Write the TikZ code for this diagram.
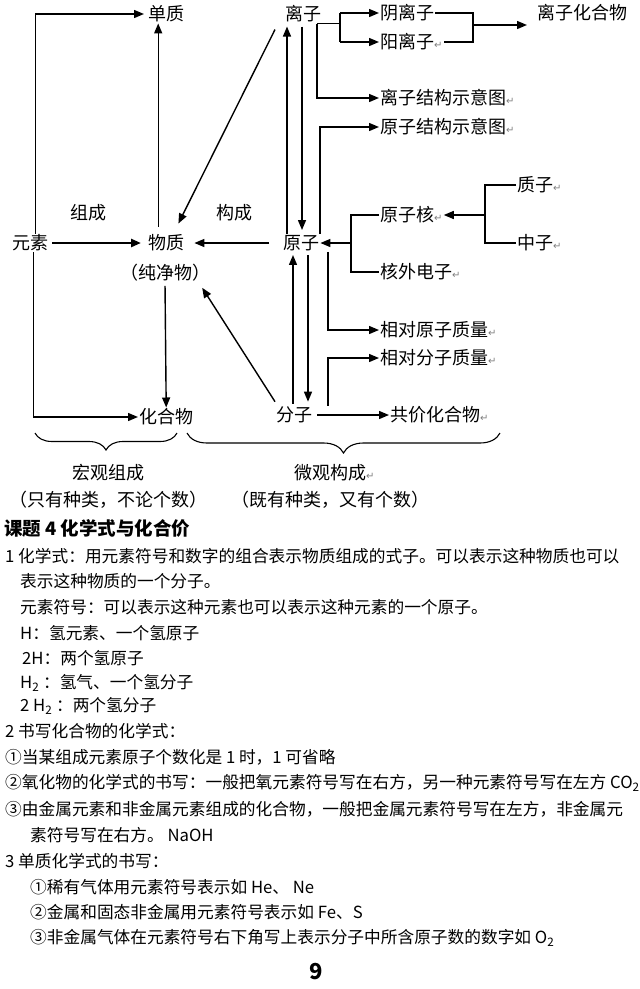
\documentclass[tikz,border=0pt]{standalone}
\usepackage{fontspec}
\setmainfont{Noto Sans CJK SC}
\newfontfamily\symfont{DejaVu Sans}
\usetikzlibrary{arrows.meta,decorations.pathreplacing}
\newcommand\rtn{{\symfont\fontsize{10}{10}\selectfont\color{gray}↵}}
\begin{document}
\begin{tikzpicture}[x=1pt,y=-1pt,
  dg/.style={font=\fontsize{18}{18}\selectfont, inner sep=1pt, anchor=west},
  dgc/.style={font=\fontsize{18}{18}\selectfont, inner sep=1pt},
  tx/.style={font=\fontsize{16.7}{18}\selectfont, inner sep=0pt, anchor=west},
  ln/.style={line width=1.4pt},
  ar/.style={line width=1.4pt, -{Triangle[length=10pt,width=8pt]}},
  brc/.style={line width=1.1pt, decorate, decoration={brace, mirror, amplitude=#1}}]
\fill[white] (0,0) rectangle (640,989);
\useasboundingbox (0,0) rectangle (640,989);

% ---------- diagram nodes ----------
\node[dg] (dz) at (147,14) {单质};
\node[dg] (lz) at (284,14) {离子};
\node[dg] (yin) at (379,13) {阴离子};
\node[dg] (yang) at (379,42) {阳离子\rtn};
\node[dg] (lzhw) at (536,13) {离子化合物};
\node[dg] (lzjg) at (379,98) {离子结构示意图\rtn};
\node[dg] (yzjg) at (379,127) {原子结构示意图\rtn};
\node[dg] (zz) at (516,185) {质子\rtn};
\node[dg] (zhz) at (516,243) {中子\rtn};
\node[dg] (yzh) at (379,215) {原子核\rtn};
\node[dg] (yz) at (282,243) {原子};
\node[dg] (ys) at (11,243) {元素};
\node[dg] (wz) at (147,243) {物质};
\node[dg] (zc) at (69,213) {组成};
\node[dg] (gc) at (215,213) {构成};
\node[dgc] (cjw) at (165,273) {（纯净物）};
\node[dg] (hhw) at (138,417) {化合物};
\node[dg] (fz) at (275,415) {分子};
\node[dg] (gjhhw) at (389,415) {共价化合物\rtn};
\node[dg] (hwdz) at (379,272) {核外电子\rtn};
\node[dg] (xdyz) at (379,330) {相对原子质量\rtn};
\node[dg] (xdfz) at (379,358) {相对分子质量\rtn};
\node[dgc] (hgzc) at (108,473) {宏观组成};
\node[dg] (wgjc) at (293,473) {微观构成\rtn};
\node[dg] (note1) at (8,500) {（只有种类，不论个数）};
\node[dg] (note2) at (230,500) {（既有种类，又有个数）};

% ---------- lanes ----------
\coordinate (L1) at (287,0);
\coordinate (L2) at (302,0);
\coordinate (L3) at (293,0);
\coordinate (L4) at (308,0);
\coordinate (L5) at (317,0);
\coordinate (L6) at (340,0);
\coordinate (L7) at (473,0);
\coordinate (L8) at (320,0);
\coordinate (L9) at (485,0);
\coordinate (L10) at (351,0);
\coordinate (L11) at (328,0);
\coordinate (J1) at (473,25);

% ---------- connectors ----------
\draw[ar, shorten >=3pt] ([xshift=5pt]ys.north) |- (dz.west);
\draw[ar, line width=2.6pt, shorten <=3pt, shorten >=6pt] (ys.east) -- (wz.west);
\draw[ar] ([xshift=3pt]ys.south) |- (hhw.west);
\draw[ar, shorten <=7pt] ([xshift=-8pt]wz.north) -- ([xshift=-8pt]dz.south);
\draw[ar, shorten <=3pt] (cjw.south) -- (hhw.north);
\draw[ar] ([shift={(-9,6)}]lz.south west) -- ([shift={(-7,-10)}]wz.north east);
\draw[ar, shorten <=13pt, shorten >=9pt] (yz.west) -- (wz.east);
\draw[ar] ([shift={(0,-4)}]fz.north west) -- ([shift={(-9,5)}]cjw.south east);
\draw[ar, shorten >=3pt] (L1 |- yz.north) -- (L1 |- lz.south);
\draw[ar, shorten <=3pt, shorten >=4pt] (L2 |- lz.south) -- (L2 |- yz.north);
\draw[ar, shorten <=2pt, shorten >=3pt] (L3 |- fz.north) -- (L3 |- yz.south);
\draw[ar, shorten <=3pt, shorten >=4pt] (L4 |- yz.south) -- (L4 |- fz.north);
\draw[ar] (L5 |- lz.south) |- (lzjg.west);
\draw[ln] (L5 |- lz.south) -- (L6 |- lz.south);
\draw[ln] (L6 |- yin.west) -- (L6 |- yang.west);
\draw[ar] (L6 |- yin.west) -- (yin.west);
\draw[ar] (L6 |- yang.west) -- (yang.west);
\draw[ln] (yin.east) -| (L7 |- yang.east) -- (yang.east);
\draw[ar, shorten >=9pt] (J1) -- (J1 -| lzhw.west);
\draw[ar] (L8 |- yz.north) |- (yzjg.west);
\draw[ln] (zz.west) -| (L9 |- zhz.west) -- (zhz.west);
\draw[ar] (L9 |- yzh.east) -- (yzh.east);
\draw[ln] (yzh.west) -| (L10 |- hwdz.west) -- (hwdz.west);
\draw[ar] (L10 |- yz.east) -- (yz.east);
\draw[ar] (L11 |- yz.south) |- (xdyz.west);
\draw[ar] (L11 |- fz.north) |- (xdfz.west);
\draw[ar, shorten <=4pt] (fz.east) -- (gjhhw.west);

% ---------- braces ----------
\draw[brc=17pt] (35,433) -- (177,433);
\draw[brc=20pt] (187,433) -- (500,433);

% ---------- text ----------
\node[tx, font=\fontsize{18.5}{20}\selectfont\bfseries] (title) at (4,528) {课题 4 化学式与化合价};
\node[tx] (t1) at (5,556) {1 化学式：用元素符号和数字的组合表示物质组成的式子。可以表示这种物质也可以};
\node[tx] (t2) at (20,581) {表示这种物质的一个分子。};
\node[tx] (t3) at (20,607) {元素符号：可以表示这种元素也可以表示这种元素的一个原子。};
\node[tx] (t4) at (20,633) {H：氢元素、一个氢原子};
\node[tx] (t5) at (22,658) {2H：两个氢原子};
\node[tx] (t6) at (20,683) {H\textsubscript{2} ：氢气、一个氢分子};
\node[tx] (t7) at (20,706) {2 H\textsubscript{2} ：两个氢分子};
\node[tx] (t8) at (5,731) {2 书写化合物的化学式：};
\node[tx] (t9) at (5,757) {①当某组成元素原子个数化是 1 时，1 可省略};
\node[tx] (t10) at (5,783) {②氧化物的化学式的书写：一般把氧元素符号写在右方，另一种元素符号写在左方 CO\textsubscript{2}};
\node[tx] (t11) at (5,809) {③由金属元素和非金属元素组成的化合物，一般把金属元素符号写在左方，非金属元};
\node[tx] (t12) at (30,835) {素符号写在右方。 NaOH};
\node[tx] (t13) at (5,861) {3 单质化学式的书写：};
\node[tx] (t14) at (30,887) {①稀有气体用元素符号表示如 He、 Ne};
\node[tx] (t15) at (30,912) {②金属和固态非金属用元素符号表示如 Fe、S};
\node[tx] (t16) at (30,938) {③非金属气体在元素符号右下角写上表示分子中所含原子数的数字如 O\textsubscript{2}};
\node[font=\fontsize{22}{22}\selectfont\bfseries] (pg) at (316,972) {9};
\end{tikzpicture}
\end{document}
